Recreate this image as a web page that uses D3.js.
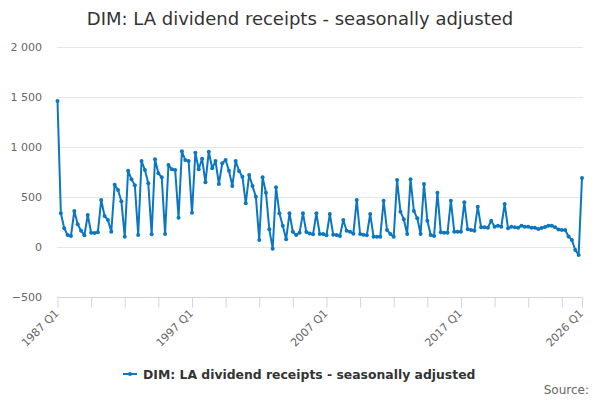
<!DOCTYPE html>
<html>
<head>
<meta charset="utf-8">
<script src="https://cdn.jsdelivr.net/npm/d3@7/dist/d3.min.js"></script>
<style>
  html, body { margin: 0; padding: 0; background: #fff; }
  svg { font-family: "DejaVu Sans", sans-serif; display: block; }
</style>
</head>
<body>
<div id="chart"></div>
<script>
(function() {

  "use strict";

  // quarterly series, 1987 Q1 .. 2026 Q1
  var startYear = 1987;
  var seriesName = 'DIM: LA dividend receipts - seasonally adjusted';
  var values = [
    1460, 337, 187, 120, 110, 360, 227, 163, 117, 320,
    143, 140, 147, 470, 310, 270, 153, 623, 570, 457,
    103, 763, 677, 617, 120, 860, 770, 637, 127, 877,
    737, 697, 130, 820, 777, 770, 293, 957, 870, 860,
    343, 943, 777, 883, 647, 953, 787, 860, 630, 837,
    870, 763, 610, 860, 760, 703, 437, 720, 610, 503,
    70, 697, 543, 177, -17, 597, 337, 213, 77, 337,
    153, 120, 143, 337, 150, 135, 127, 337, 130, 130,
    117, 330, 123, 120, 110, 270, 163, 153, 133, 470,
    130, 123, 117, 330, 103, 103, 103, 463, 170, 130,
    103, 670, 353, 277, 130, 677, 360, 287, 130, 630,
    263, 120, 110, 543, 147, 143, 143, 463, 153, 153,
    153, 447, 177, 170, 163, 403, 197, 197, 193, 263,
    203, 213, 203, 430, 187, 203, 197, 193, 213, 203,
    203, 193, 193, 180, 190, 200, 213, 213, 197, 175,
    170, 170, 105, 70, -30, -80, 690
  ];
  var yTicks = [-500, 0, 500, 1000, 1500, 2000];
  var xTickLabels = ['1987 Q1', '1997 Q1', '2007 Q1', '2017 Q1', '2026 Q1'];

  var width = 600;
  var height = 400;
  var margin = { top: 47, right: 17, bottom: 103, left: 57 };
  var lineColor = '#0a77c0';

  var categories = values.map(function(v, i) {
    return (startYear + Math.floor(i / 4)) + ' Q' + (i % 4 + 1);
  });
  var data = values.map(function(v, i) {
    return { name: categories[i], value: v };
  });

  var svg = d3.select('#chart').append('svg')
    .attr('width', width)
    .attr('height', height);

  var x = d3.scalePoint()
    .domain(categories)
    .range([margin.left + 0.5, width - margin.right - 1]);

  var y = d3.scaleLinear()
    .domain([-500, 2000])
    .range([height - margin.bottom, margin.top]);

  // title
  svg.append('text')
    .attr('x', width / 2)
    .attr('y', 25)
    .attr('text-anchor', 'middle')
    .attr('fill', '#333333')
    .style('font-size', '18px')
    .text(seriesName);

  // gridlines
  svg.append('g')
    .selectAll('line')
    .data(yTicks.filter(function(d) { return d !== -500; }))
    .enter().append('line')
    .attr('x1', margin.left)
    .attr('x2', width - margin.right)
    .attr('y1', function(d) { return Math.round(y(d)) + 0.5; })
    .attr('y2', function(d) { return Math.round(y(d)) + 0.5; })
    .attr('stroke', '#e6e6e6')
    .attr('stroke-width', 1);

  // y axis labels
  svg.append('g')
    .selectAll('text')
    .data(yTicks)
    .enter().append('text')
    .attr('x', 42)
    .attr('y', function(d) { return y(d) + 4; })
    .attr('text-anchor', 'end')
    .attr('fill', '#666666')
    .style('font-size', '11px')
    .text(function(d) {
      return d3.format(',')(d).replace(/,/g, '\u00a0');
    });

  // x axis
  var tickCats = categories.filter(function(d, i) {
    return i % 10 === 0 || i === categories.length - 1;
  });
  var xAxis = d3.axisBottom(x)
    .tickValues(tickCats)
    .tickSize(10)
    .tickFormat('');
  var gx = svg.append('g')
    .attr('transform', 'translate(0,' + (Math.round(y(-500)) + 0.5) + ')')
    .call(xAxis);
  gx.select('.domain')
    .attr('stroke', '#ccd6eb')
    .attr('d', 'M' + margin.left + ',0H' + (width - margin.right));
  gx.selectAll('.tick line').attr('stroke', '#ccd6eb');

  svg.append('g')
    .selectAll('text')
    .data(xTickLabels)
    .enter().append('text')
    .attr('transform', function(d) {
      return 'translate(' + (x(d) + 2) + ',' + 314 + ') rotate(-45)';
    })
    .attr('text-anchor', 'end')
    .attr('fill', '#666666')
    .style('font-size', '11px')
    .text(function(d) { return d; });

  // series line
  var line = d3.line()
    .x(function(d) { return x(d.name); })
    .y(function(d) { return y(d.value); });

  svg.append('path')
    .datum(data)
    .attr('fill', 'none')
    .attr('stroke', lineColor)
    .attr('stroke-width', 2)
    .attr('stroke-linejoin', 'round')
    .attr('d', line);

  svg.append('g')
    .selectAll('circle')
    .data(data)
    .enter().append('circle')
    .attr('cx', function(d) { return x(d.name); })
    .attr('cy', function(d) { return y(d.value); })
    .attr('r', 2)
    .attr('fill', lineColor);

  // legend
  var legend = svg.append('g');
  legend.append('line')
    .attr('x1', 123).attr('x2', 137)
    .attr('y1', 374).attr('y2', 374)
    .attr('stroke', lineColor)
    .attr('stroke-width', 2);
  legend.append('circle')
    .attr('cx', 130).attr('cy', 374)
    .attr('r', 2)
    .attr('fill', lineColor);
  legend.append('text')
    .attr('x', 143)
    .attr('y', 378.5)
    .attr('fill', '#333333')
    .style('font-size', '12.4px')
    .style('font-weight', 'bold')
    .text(seriesName);

  // credits
  svg.append('text')
    .attr('x', 589)
    .attr('y', 394)
    .attr('text-anchor', 'end')
    .attr('fill', '#666666')
    .style('font-size', '12px')
    .text('Source:');

})();
</script>
</body>
</html>
